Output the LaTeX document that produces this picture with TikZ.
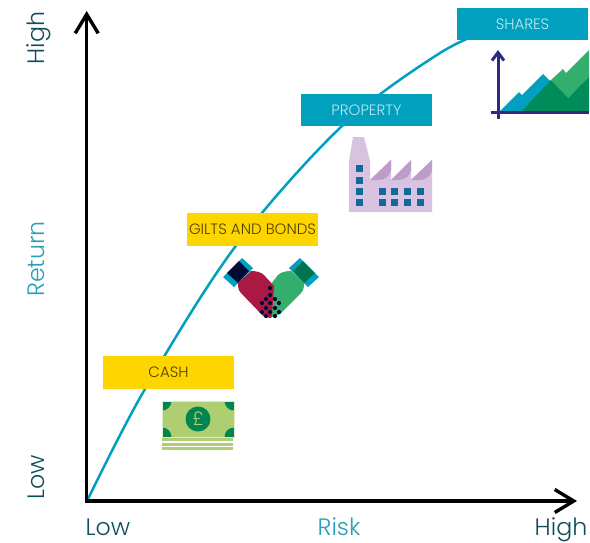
\documentclass[tikz,border=0pt]{standalone}
\usepackage{fontspec}
\setmainfont{Poppins Light}
\usetikzlibrary{arrows.meta}
\definecolor{tealblue}{HTML}{00A0BE}
\definecolor{gold}{HTML}{FFD500}
\definecolor{axisdark}{HTML}{0F4C5C}
\definecolor{axisteal}{HTML}{2BA0B8}
\definecolor{navyline}{HTML}{2E2A84}
\definecolor{mtnlight}{HTML}{33AE6C}
\definecolor{mtndark}{HTML}{008C5A}
\definecolor{lilac}{HTML}{D9C2E0}
\definecolor{lilacdark}{HTML}{BC9CC8}
\definecolor{winblue}{HTML}{0F6A9A}
\definecolor{noteg}{HTML}{AECE72}
\definecolor{noted}{HTML}{008552}
\definecolor{handred}{HTML}{A91944}
\definecolor{cuffnavy}{HTML}{050A35}
\definecolor{cuffgreen}{HTML}{00734F}
\tikzset{
  x=1pt,y=-1pt,
  axisline/.style={line width=3.4pt,black,-{Straight Barb[length=19pt,width=23pt,line width=3.4pt]}},
  bluebox/.style={fill=tealblue,minimum width=131pt,minimum height=32.5pt,inner sep=0pt,text=white!75!tealblue,font=\fontsize{15}{16}\selectfont},
  goldbox/.style={fill=gold,minimum width=131pt,minimum height=33pt,inner sep=0pt,text=black!70!gold,font=\fontsize{15}{16}\selectfont},
  axlabel/.style={inner sep=0pt,font=\fontsize{23.7}{28}\selectfont,text=axisdark},
  axlabelteal/.style={axlabel,text=axisteal},
  win/.style={fill=winblue},
}
\begin{document}
\begin{tikzpicture}
\useasboundingbox (0,0) rectangle (590,542);
\fill[white] (0,0) rectangle (590,542);
\coordinate (orig) at (86.7,501);
\coordinate (ytip) at (86.7,11);
\coordinate (xtip) at (577,501);
% curve
\draw[tealblue,line width=2.5pt] plot[smooth,tension=0.55] coordinates {(88,499) (145,389) (235,247) (342,126) (440,53) (495,28)};
% axes
\draw[axisline] (orig) -- (ytip);
\draw[axisline] (orig) -- (xtip);
\fill[black] (85,499.3) rectangle (88.4,502.7);
% boxes
\node[bluebox] (shares) at (522.5,24) {SHARES};
\node[bluebox] (property) at (366.5,110) {PROPERTY};
\node[goldbox] (gilts) at (252.5,229.5) {GILTS AND BONDS};
\node[goldbox] (cash) at (168.5,372.5) {CASH};
% axis labels
\node[axlabel,rotate=90,anchor=base] (yhigh) at (45,38) {High};
\node[axlabelteal,rotate=90,anchor=base] (yret) at (45,259) {Return};
\node[axlabel,rotate=90,anchor=base] (ylow) at (45,477) {Low};
\node[axlabel,anchor=base] (xlow) at (108,535) {Low};
\node[axlabelteal,anchor=base] (xrisk) at (339,535) {Risk};
\node[axlabel,anchor=base] (xhigh) at (561,535) {High};
% shares icon
\fill[tealblue] (500,111) -- (519,92) -- (522,95) -- (543,74) -- (568,98) -- (568,111) -- cycle;
\fill[mtnlight] (551,80) -- (563,69) -- (566,73) -- (589,50) -- (589,78) -- (568,98) -- cycle;
\fill[mtndark] (522,111) -- (551,80) -- (568,98) -- (589,77) -- (589,111) -- cycle;
\draw[navyline,line width=3pt] (491,112.5) -- (589,112.5);
\draw[navyline,line width=3pt,-{Straight Barb[length=8pt,width=12pt,line width=3pt]}] (498,119) -- (498,50);
% factory
\fill[lilac] (353,137) -- (364,137) -- (370,161) -- (370,180) -- (391,160) -- (391,180) -- (411,160) -- (411,180) -- (432,160) -- (432,212) -- (349,212) -- (349,161) -- cycle;
\fill[lilacdark] (370,180) -- (391,160) -- (391,170) .. controls (390,176) and (385,180) .. (378,180) -- cycle;
\fill[lilacdark] (391,180) -- (411,160) -- (411,170) .. controls (410,176) and (405,180) .. (398,180) -- cycle;
\fill[lilacdark] (411,180) -- (432,160) -- (432,170) .. controls (431,176) and (426,180) .. (419,180) -- cycle;
\foreach \yy in {168.5,180,191,202}{\fill[win] (355.5,\yy-3.5) rectangle +(7,7);}
\foreach \xx in {382,394.5,407,420}{\foreach \yy in {191,202}{\fill[win] (\xx-3.5,\yy-3.5) rectangle +(7,7);}}
% banknote
\fill[noteg] (162,401) rectangle (234,437);
\begin{scope}
\clip (162,401) rectangle (234,437);
\foreach \cx/\cy in {162/401,234/401,162/437,234/437}{\fill[noted] (\cx,\cy) circle (9.5);}
\end{scope}
\draw[white!60!noteg,line width=0.7pt] (162,401) rectangle (234,437);
\node[circle,fill=noted,minimum size=25pt,inner sep=0pt,text=noteg,font=\fontsize{19}{19}\selectfont] (pound) at (198,419) {£};
\fill[noteg] (162,438) rectangle (233,441);
\fill[noteg] (162,443) rectangle (233,446);
\fill[noteg] (162,447) rectangle (233,450);
% handshake
\fill[tealblue] (223,277) -- (242,258) -- (253,268) -- (234,287) -- cycle;
\fill[tealblue] (319,277) -- (300,258) -- (289,268) -- (308,287) -- cycle;
\fill[cuffnavy] (227,273) -- (239,261) -- (249,271) -- (238,283) -- cycle;
\fill[cuffgreen] (315,273) -- (303,261) -- (293,271) -- (304,283) -- cycle;
\fill[white] (250,263) circle (1.2) (292,263) circle (1.2);
\fill[mtnlight] (304,283) -- (291,271) .. controls (286,271) and (281,272) .. (278,275) -- (268,288) -- (268,316) -- (270,318) -- (280,314) -- (301,293) .. controls (304,290) and (304,286) .. (304,283) -- cycle;
\fill[handred] (238,283) -- (251,271) .. controls (256,271) and (261,272) .. (264,275) -- (274,286) -- (272,316) -- (270,318) -- (263,316) -- (241,293) .. controls (238,290) and (238,286) .. (238,283) -- cycle;
\foreach \a/\b/\c/\d in {253,300,265,313, 258,296,268,307, 262,293,270,302, 288,301,278,312, 284,297,274,307, 280,293,272,302}{\draw[white,line width=0.8pt] (\a,\b) -- (\c,\d);}
\foreach \dx/\dy in {270/288,270/295,266/299,275/299,262/303,270/303,279/303,266/308,275/308,262/312,270/312,279/312,266/316,275/316}{\fill[cuffnavy] (\dx,\dy) circle (2.1);}
\end{tikzpicture}
\end{document}
